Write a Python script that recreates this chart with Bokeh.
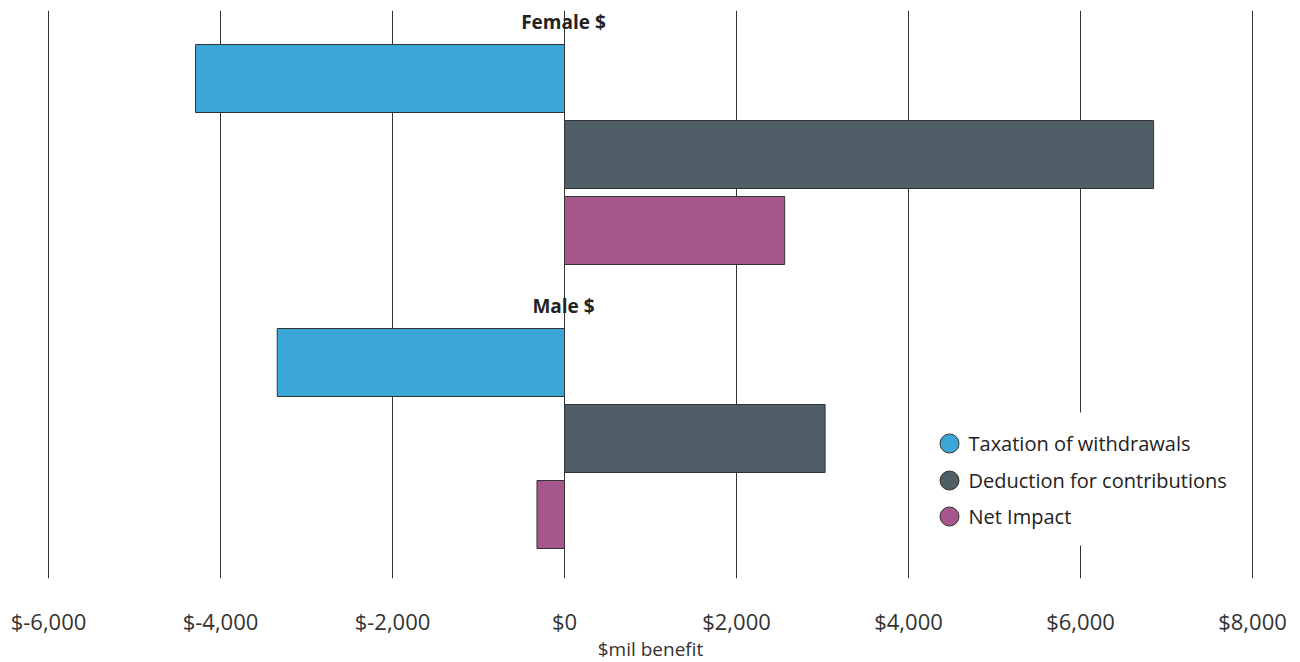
from bokeh.plotting import figure
from bokeh.models import Range1d, FixedTicker
from bokeh.core.properties import value
from bokeh.embed import file_html
from bokeh.resources import INLINE

# ---- data ----
groups = ["Female $", "Male $"]
series = ["Taxation of withdrawals", "Deduction for contributions", "Net Impact"]
female_vals = [-4290, 6850, 2560]
male_vals = [-3340, 3030, -320]
tick_values = [-6000, -4000, -2000, 0, 2000, 4000, 6000, 8000]
tick_labels = ["$-6,000", "$-4,000", "$-2,000", "$0", "$2,000", "$4,000", "$6,000", "$8,000"]
colors = ["#3AA7D6", "#505E68", "#A5578C"]

FONT = "Open Sans"
W, H = 1300, 662
PADPX = 2
LEFT, RIGHT, TOP, BOTTOM = 48 - PADPX, 48 - PADPX, 10, 84
FW = W - LEFT - RIGHT
FH = H - TOP - BOTTOM
UNIT_PER_PX = 14000 / 1204
XMIN, XMAX = -6000 - PADPX * UNIT_PER_PX, 8000 + PADPX * UNIT_PER_PX

p = figure(frame_width=FW, frame_height=FH, output_backend="svg", toolbar_location=None,
           x_range=Range1d(XMIN, XMAX), y_range=Range1d(FH, 0),
           min_border_left=LEFT, min_border_right=RIGHT,
           min_border_top=TOP, min_border_bottom=BOTTOM)
p.outline_line_color = None
p.background_fill_color = "white"
p.yaxis.visible = False
p.ygrid.visible = False
p.xgrid.grid_line_color = "#333333"
p.xgrid.grid_line_width = 1
p.xaxis.ticker = FixedTicker(ticks=tick_values)
p.xaxis.major_label_overrides = {v: l for v, l in zip(tick_values, tick_labels)}
p.xaxis.axis_line_color = None
p.xaxis.major_tick_line_color = None
p.xaxis.minor_tick_line_color = None
p.xaxis.major_label_text_font = FONT
p.xaxis.major_label_text_font_size = "22px"
p.xaxis.major_label_text_color = "#333333"
p.xaxis.major_label_standoff = 21
p.xaxis.axis_label = "$mil benefit"
p.xaxis.axis_label_text_font = FONT
p.xaxis.axis_label_text_font_size = "19px"
p.xaxis.axis_label_text_font_style = "normal"
p.xaxis.axis_label_text_color = "#333333"
p.xaxis.axis_label_standoff = -3

pitch = 76
bar_h = 68
first = 68
group_gap = 56
label_off = 56

for gi, (gname, vals) in enumerate(zip(groups, [female_vals, male_vals])):
    base = first + gi * (3 * pitch + group_gap)
    for si, v in enumerate(vals):
        yc = base + si * pitch
        p.hbar(y=[yc], left=[0], right=[v], height=bar_h, fill_color=colors[si],
               line_color="#333333", line_width=1)
    p.text(x=[0], y=[base - label_off], text=[gname], text_font=value(FONT),
           text_font_size="19px", text_font_style="bold", text_align="center",
           text_baseline="middle", text_color="#222222", x_offset=-1, y_offset=-1)

def px_to_x(px):
    return XMIN + (px - LEFT) / FW * (XMAX - XMIN)

# legend
p.quad(left=[px_to_x(925)], right=[px_to_x(1245)], top=[402], bottom=[535],
       fill_color="white", line_color=None)
leg_y = [433, 470, 506]
for si, name in enumerate(series):
    p.scatter(x=[px_to_x(949)], y=[leg_y[si]], size=19, marker="circle",
              fill_color=colors[si], line_color="#333333", line_width=1)
    p.text(x=[px_to_x(968)], y=[leg_y[si]], text=[name], text_font=value(FONT),
           text_font_size="20px", text_baseline="middle", text_align="left",
           text_color="#222222")

open("out.html", "w").write(file_html(p, INLINE))
